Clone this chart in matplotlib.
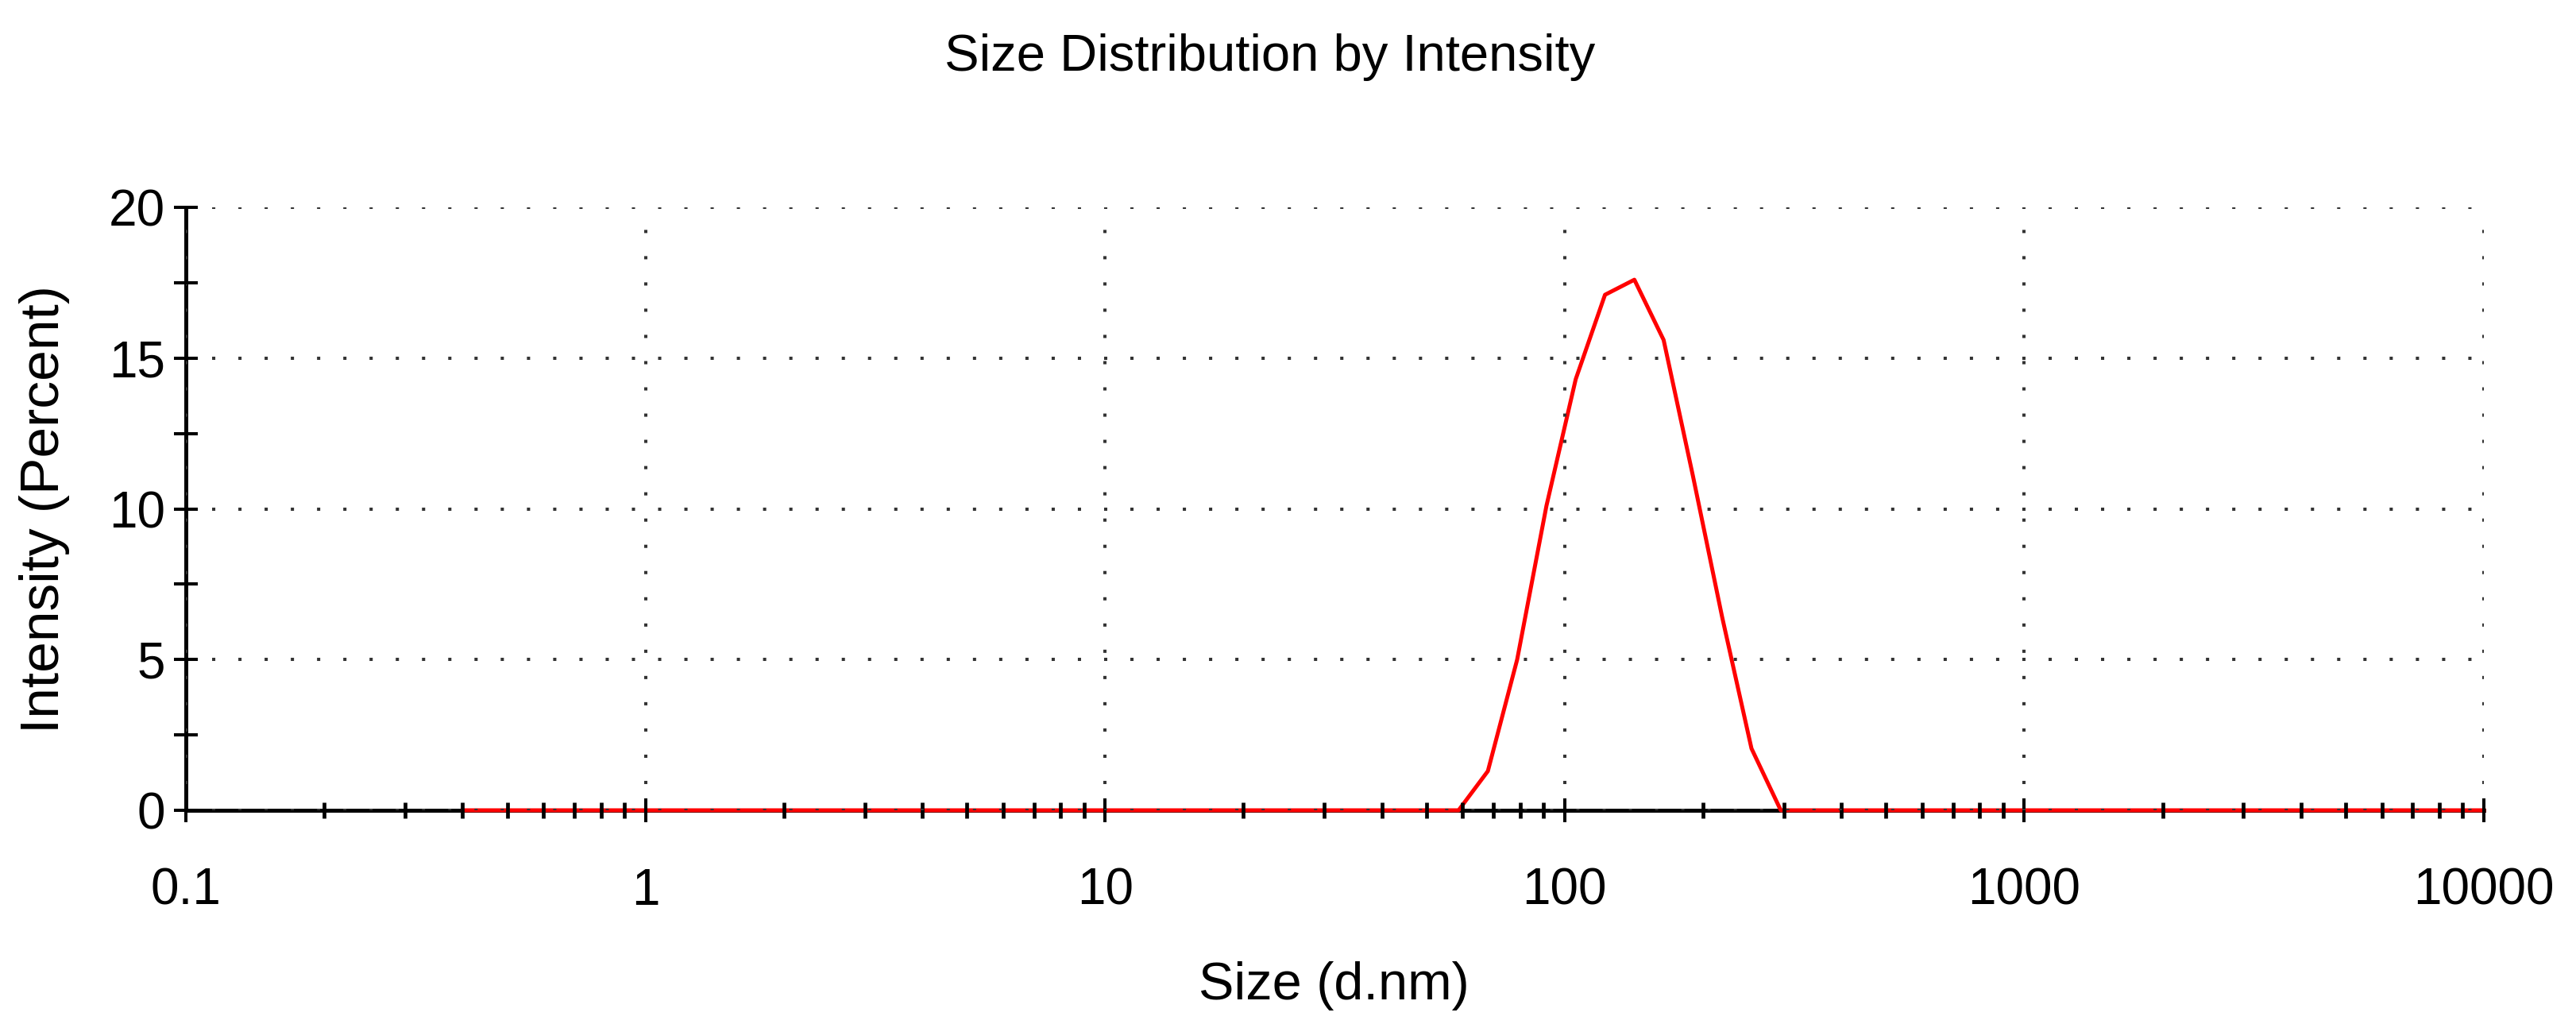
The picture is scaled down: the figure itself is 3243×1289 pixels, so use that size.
import matplotlib
matplotlib.use("Agg")
import matplotlib.pyplot as plt

# size bins (d.nm) and intensity (%)
sizes = [0.4, 0.4632, 0.5365, 0.6213, 0.7195, 0.8332, 0.9649, 1.117, 1.294, 1.499,
         1.736, 2.010, 2.328, 2.696, 3.122, 3.615, 4.187, 4.849, 5.615, 6.503,
         7.531, 8.721, 10.10, 11.70, 13.54, 15.69, 18.17, 21.04, 24.36, 28.21,
         32.67, 37.84, 43.82, 50.75, 58.77, 68.06, 78.82, 91.28, 105.7, 122.4,
         141.8, 164.2, 190.1, 220.2, 255.0, 295.3, 342.0, 396.1, 458.7, 531.2,
         615.1, 712.4, 825.0, 955.4, 1106, 1281, 1484, 1718, 1990, 2305,
         2669, 3091, 3580, 4145, 4801, 5560, 6439, 7456, 8635, 10000]
peak = [0.0, 1.3, 5.0, 10.1, 14.3, 17.1, 17.6, 15.6, 11.1, 6.4, 2.05, 0.0]
intensity = [0.0] * 34 + peak + [0.0] * 24

xticks = [0.1, 1, 10, 100, 1000, 10000]
xticklabels = ["0.1", "1", "10", "100", "1000", "10000"]
yticks = [0, 5, 10, 15, 20]

plt.rcParams['font.family'] = ['Liberation Sans', 'DejaVu Sans']

fig = plt.figure(figsize=(32.43, 12.89), dpi=100)
ax = fig.add_axes([0.0722, 0.2087, 0.892, 0.5888])

ax.plot(sizes, intensity, color='#ff0000', lw=3.6, zorder=2.2, clip_on=False)

ax.set_xscale('log')
ax.set_xlim(0.1, 10000)
ax.set_ylim(0, 20)
ax.set_xticks(xticks)
ax.set_xticklabels(xticklabels)
ax.set_yticks(yticks)
ax.set_yticks([2.5, 7.5, 12.5, 17.5], minor=True)

for s in ['top', 'right']:
    ax.spines[s].set_visible(False)
for s in ['left', 'bottom']:
    ax.spines[s].set_linewidth(3.6)
    ax.spines[s].set_zorder(2)

ax.set_axisbelow(False)
ax.grid(True, which='major', color='#333333', lw=2.9, linestyle=(0, (1, 7.2)))

ax.tick_params(axis='both', which='both', direction='inout', color='black', width=2.9)
ax.tick_params(axis='y', which='both', length=21.6, pad=8, labelsize=46)
ax.tick_params(axis='x', which='major', length=21.6, pad=41, labelsize=46)
ax.tick_params(axis='x', which='minor', length=13.7, width=3.4)

fig.text(0.493, 0.944, "Size Distribution by Intensity", ha='center', va='center', fontsize=47)
fig.text(0.518, 0.037, "Size (d.nm)", ha='center', va='center', fontsize=48)
fig.text(0.0173, 0.5027, "Intensity (Percent)", ha='center', va='center', rotation=90, fontsize=50)

fig.savefig("out.png", dpi=100)
